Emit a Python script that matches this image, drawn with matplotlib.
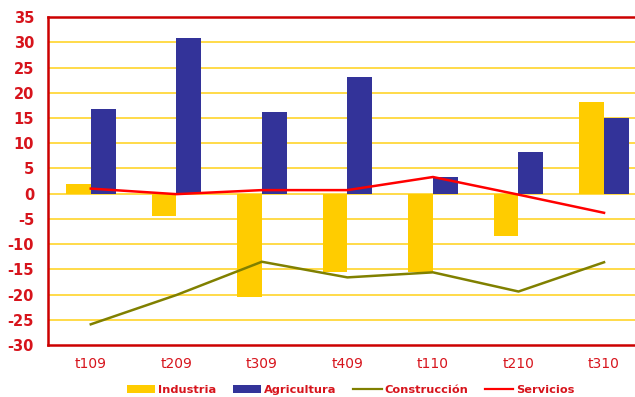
import matplotlib
matplotlib.use("Agg")
import matplotlib.pyplot as plt
import numpy as np
from matplotlib.lines import Line2D
from matplotlib.patches import Patch

categories = ["t109", "t209", "t309", "t409", "t110", "t210", "t310"]
industria = [1.9, -4.4, -20.4, -15.5, -15.5, -8.3, 18.2]
agricultura = [16.8, 30.8, 16.2, 23.1, 3.3, 8.2, 15.0]
construccion = [-25.9, -20.1, -13.5, -16.6, -15.6, -19.4, -13.6]
servicios = [1.0, -0.1, 0.7, 0.7, 3.3, -0.2, -3.8]
y_ticks = list(range(-30, 40, 5))

red_text = "#D7141C"
frame_red = "#CC0000"

fig = plt.figure(figsize=(6.35, 3.97), dpi=100)
ax = fig.add_axes([0.0756, 0.131, 0.943, 0.826])

x = np.arange(len(categories))
w = 0.29
ax.bar(x - w / 2, industria, width=w, color="#FFCC00", zorder=2)
ax.bar(x + w / 2, agricultura, width=w, color="#333399", zorder=2)
ax.plot(x, construccion, color="#808000", lw=1.8, zorder=3)
ax.plot(x, servicios, color="#FF0000", lw=1.8, zorder=3)

ax.set_xlim(-0.5, len(categories) - 0.5)
ax.set_ylim(-30, 35)
ax.set_yticks(y_ticks)
ax.set_xticks(x)
ax.set_xticklabels(categories, color=red_text, fontsize=10)
ax.set_yticklabels([str(v) for v in y_ticks], color=red_text,
                   fontsize=10.5, fontweight="bold")
ax.tick_params(length=0)
ax.tick_params(axis="x", pad=9)
ax.tick_params(axis="y", pad=10)

for v in y_ticks[1:-1]:
    ax.axhline(v, color="#FFD42A", lw=1.2, zorder=1)

for side in ["left", "bottom", "top"]:
    ax.spines[side].set_color(frame_red)
    ax.spines[side].set_linewidth(1.8)
ax.spines["right"].set_visible(False)

handles = [
    Patch(facecolor="#FFCC00", edgecolor="none"),
    Patch(facecolor="#333399", edgecolor="none"),
    Line2D([0], [0], color="#808000", lw=1.6),
    Line2D([0], [0], color="#FF0000", lw=1.6),
]
labels = ["Industria", "Agricultura", "Construcción", "Servicios"]
leg = fig.legend(handles, labels, loc="center", bbox_to_anchor=(0.552, 0.018),
                 ncol=4, frameon=False, fontsize=8.2, handlelength=2.5,
                 handleheight=0.75, handletextpad=0.2, columnspacing=1.5)
for t in leg.get_texts():
    t.set_color(red_text)
    t.set_fontweight("bold")

fig.savefig("out.png", dpi=100)
